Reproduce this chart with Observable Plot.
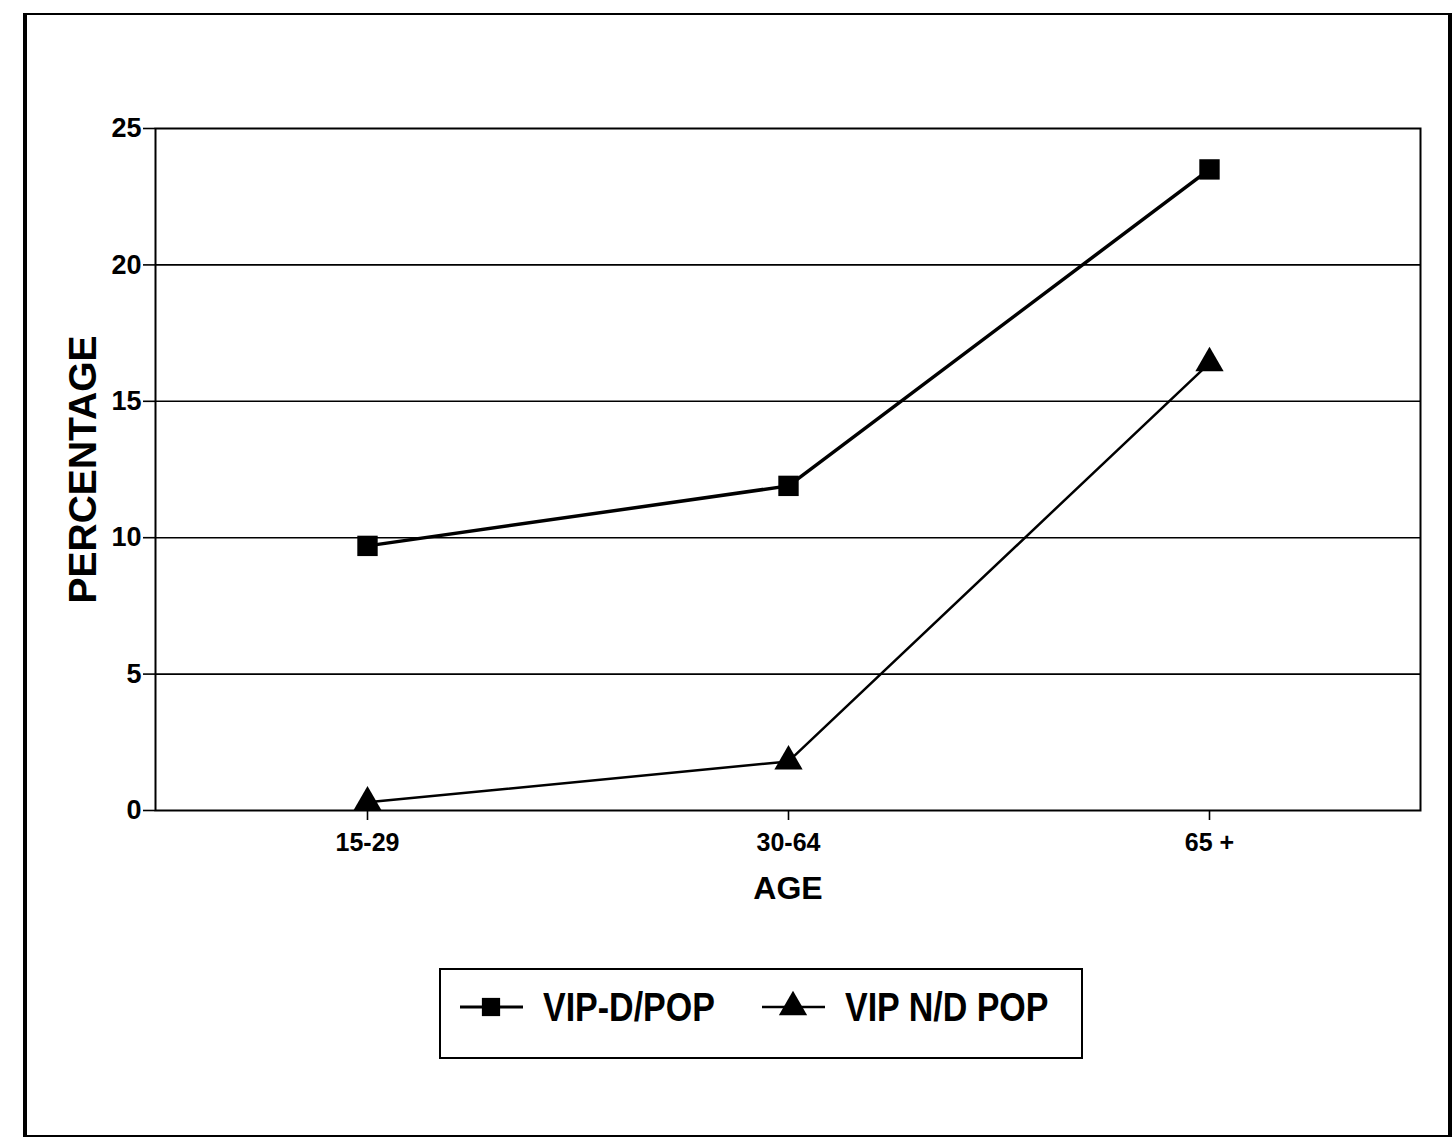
<!DOCTYPE html>
<html><head><meta charset="utf-8">
<script src="https://cdn.jsdelivr.net/npm/d3@7"></script>
<script src="https://cdn.jsdelivr.net/npm/@observablehq/plot@0.6"></script>
<style>
html,body{margin:0;padding:0;background:#fff;}
#wrap{position:relative;width:1455px;height:1148px;font-family:"Liberation Sans",Arial,sans-serif;font-weight:bold;color:#000;overflow:hidden;}
#frame{position:absolute;left:23px;top:13px;width:1429px;height:1124px;border-left:4px solid #000;border-right:4px solid #000;border-top:2px solid #000;border-bottom:2px solid #000;box-sizing:border-box;}
#chart{position:absolute;left:0;top:0;}
#legend{position:absolute;left:439px;top:968px;width:644px;height:91px;border:2px solid #000;box-sizing:border-box;background:#fff;}
.item{position:absolute;top:14px;display:flex;align-items:center;height:46px;}
.item span{font-size:34px;line-height:46px;margin-left:20px;white-space:nowrap;transform:scaleY(1.2);transform-origin:center;display:inline-block;}
</style></head>
<body>
<div id="wrap">
  <div id="frame"></div>
  <div id="chart"></div>
  <div id="legend"></div>
</div>
<script>
const ages = ["15-29", "30-64", "65 +"];
const vipD = [9.7, 11.9, 23.5];
const vipND = [0.3, 1.8, 16.4];
const yTicks = [0, 5, 10, 15, 20, 25];
const seriesNames = ["VIP-D/POP", "VIP N/D POP"];
const symbols = ["square", "triangle"];

const dataD = ages.map((a, i) => ({age: a, value: vipD[i], series: seriesNames[0]}));
const dataND = ages.map((a, i) => ({age: a, value: vipND[i], series: seriesNames[1]}));

const font = '"Liberation Sans",Arial,sans-serif';

const chart = Plot.plot({
  width: 1455,
  height: 930,
  marginLeft: 155,
  marginRight: 35,
  marginTop: 128,
  marginBottom: 120,
  style: {fontFamily: font, fontWeight: "bold", color: "#000", background: "transparent", overflow: "visible"},
  x: {type: "point", domain: ages, padding: 0.5},
  y: {domain: [0, 25]},
  marks: [
    Plot.ruleY(yTicks.slice(1, -1), {stroke: "#000", strokeWidth: 1.6}),
    Plot.frame({stroke: "#000", strokeWidth: 2}),
    Plot.axisY({ticks: yTicks, tickSize: 12, tickPadding: 2, label: null, fontSize: 27, stroke: "#000", strokeWidth: 1.6}),
    Plot.axisX({tickSize: 10, tickPadding: 13, label: null, fontSize: 25, stroke: "#000", strokeWidth: 1.6}),
    Plot.text(["PERCENTAGE"], {frameAnchor: "left", dx: -72, rotate: -90, textAnchor: "middle", lineAnchor: "middle", fontSize: 39, fontWeight: "bold", fill: "#000"}),
    Plot.text(["AGE"], {frameAnchor: "bottom", dy: 78, lineAnchor: "middle", fontSize: 32, fontWeight: "bold", fill: "#000"}),
    Plot.line(dataD, {x: "age", y: "value", stroke: "#000", strokeWidth: 3.5}),
    Plot.line(dataND, {x: "age", y: "value", stroke: "#000", strokeWidth: 2.5}),
    Plot.dot(dataD, {x: "age", y: "value", symbol: () => symbols[0], r: 11.5, fill: "#000", stroke: "none"}),
    Plot.dot(dataND, {x: "age", y: "value", symbol: () => symbols[1], r: 10.5, fill: "#000", stroke: "none"})
  ]
});
document.getElementById("chart").appendChild(chart);

// Legend
const legend = document.getElementById("legend");
const lefts = [19, 321];
seriesNames.forEach((name, i) => {
  const item = document.createElement("div");
  item.className = "item";
  item.style.left = lefts[i] + "px";
  const svg = d3.create("svg").attr("width", 63).attr("height", 46);
  svg.append("line").attr("x1", 0).attr("x2", 63).attr("y1", 23).attr("y2", 23)
    .attr("stroke", "#000").attr("stroke-width", i === 0 ? 3 : 2.5);
  const sym = i === 0 ? d3.symbolSquare : d3.symbolTriangle;
  const size = i === 0 ? 11.5 * 11.5 * Math.PI * 0.8 : 10.5 * 10.5 * Math.PI;
  svg.append("path").attr("d", d3.symbol(sym, size)()).attr("transform", "translate(31,23)").attr("fill", "#000");
  item.appendChild(svg.node());
  const span = document.createElement("span");
  span.textContent = name;
  item.appendChild(span);
  legend.appendChild(item);
});

// Make SVG text slightly taller, like the condensed original lettering
d3.select(chart).selectAll("text").style("font-stretch", "condensed");
</script>
</body></html>
